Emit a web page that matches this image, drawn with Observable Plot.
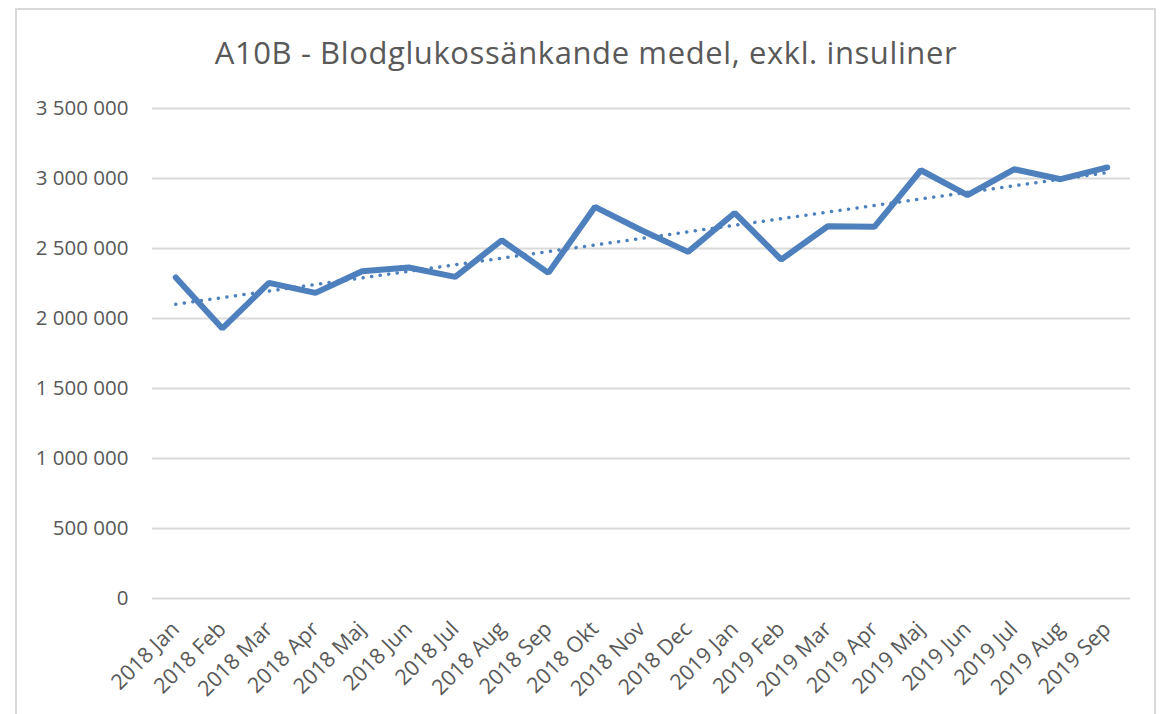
<!DOCTYPE html>
<html>
<head>
<meta charset="utf-8">
<script src="https://cdn.jsdelivr.net/npm/d3@7"></script>
<script src="https://cdn.jsdelivr.net/npm/@observablehq/plot@0.6"></script>
<style>
  html, body { margin: 0; padding: 0; background: #fff; }
  #wrap { position: relative; width: 1160px; height: 714px; overflow: hidden; font-family: "Open Sans", sans-serif; }
  #border { position: absolute; left: 15px; top: 8px; width: 1141px; height: 740px; border: 2px solid #d9d9d9; box-sizing: border-box; }
  #title { position: absolute; left: 0; width: 1172px; top: 31px; text-align: center; font-size: 31px; letter-spacing: 0.6px; color: #595959; }
  #chart { position: absolute; left: 0; top: 0; }
</style>
</head>
<body>
<div id="wrap">
  <div id="border"></div>
  <div id="title">A10B - Blodglukossänkande medel, exkl. insuliner</div>
  <div id="chart"></div>
</div>
<script>
const months = ["2018 Jan","2018 Feb","2018 Mar","2018 Apr","2018 Maj","2018 Jun","2018 Jul","2018 Aug","2018 Sep","2018 Okt","2018 Nov","2018 Dec","2019 Jan","2019 Feb","2019 Mar","2019 Apr","2019 Maj","2019 Jun","2019 Jul","2019 Aug","2019 Sep"];
const values = [2293000,1929000,2254000,2183000,2338000,2364000,2297000,2559000,2326000,2797000,2630000,2476000,2754000,2421000,2659000,2655000,3059000,2881000,3066000,2995000,3079000];
const yTicks = [0,500000,1000000,1500000,2000000,2500000,3000000,3500000];

const data = months.map((m, i) => ({i, month: m, value: values[i]}));
const fmt = v => d3.format(",")(v).replace(/,/g, " ");
const blue = "#4e80bd";

const chart = Plot.plot({
  width: 1160,
  height: 714,
  marginLeft: 152,
  marginRight: 30,
  marginTop: 108,
  marginBottom: 116,
  style: {fontFamily: "Open Sans, sans-serif", fontSize: "20px", color: "#595959", background: "transparent", overflow: "visible"},
  x: {type: "linear", domain: [-0.5, months.length - 0.5]},
  y: {domain: [0, 3500000]},
  marks: [
    Plot.gridY(yTicks, {stroke: "#d9d9d9", strokeOpacity: 1, strokeWidth: 2}),
    Plot.axisY(yTicks, {tickSize: 0, tickPadding: 24, tickFormat: fmt, label: null, fontSize: 20.5}),
    Plot.axisX(d3.range(months.length), {tickSize: 0, tickPadding: 27, tickRotate: -45, tickFormat: i => months[i], label: null, fontSize: 21.5}),
    Plot.linearRegressionY(data, {x: "i", y: "value", ci: 0, stroke: blue, strokeWidth: 3.5, strokeDasharray: "0.1 8.5", strokeLinecap: "round"}),
    Plot.line(data, {x: "i", y: "value", stroke: blue, strokeWidth: 6, strokeLinejoin: "miter", strokeLinecap: "round"})
  ]
});
document.getElementById("chart").appendChild(chart);
</script>
</body>
</html>
